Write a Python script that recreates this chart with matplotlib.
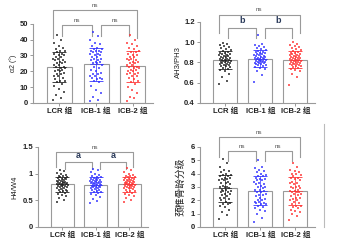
import numpy as np
import matplotlib
matplotlib.use("Agg")
import matplotlib.pyplot as plt
from matplotlib.lines import Line2D

plt.rcParams['font.family'] = ['Liberation Sans', 'Noto Sans CJK SC', 'DejaVu Sans']

groups = ["LCR 组", "ICB-1 组", "ICB-2 组"]
colors = ["#222222", "#3434ff", "#ff3434"]

# α2 (°)
lcr1 = [2, 3, 5, 7, 9, 11, 12, 13, 14, 14, 15, 16, 17, 17, 18, 18, 19, 20, 20, 21, 21, 22, 22, 23, 23,
        24, 24, 25, 25, 26, 26, 27, 27, 28, 28, 29, 29, 30, 30, 31, 31, 32, 33, 33, 34, 35, 36, 38, 40, 43]
icb1_1 = [1, 2, 4, 6, 8, 11, 13, 14, 15, 15, 16, 16, 17, 17, 18, 18, 19, 20, 21, 22, 23, 24, 25, 25, 26,
          26, 27, 27, 28, 28, 29, 29, 30, 30, 31, 31, 32, 32, 33, 33, 33, 34, 34, 35, 36, 37, 38, 40, 42, 45]
icb2_1 = [1, 3, 4, 6, 8, 10, 12, 13, 14, 15, 16, 17, 17, 18, 18, 19, 19, 20, 20, 21, 21, 22, 22, 23, 23,
          24, 24, 25, 25, 26, 26, 27, 27, 28, 28, 29, 29, 30, 30, 31, 32, 32, 33, 34, 35, 36, 37, 38, 40, 43]

# AH3/PH3
lcr2 = [0.59, 0.62, 0.66, 0.69, 0.71, 0.72, 0.73, 0.74, 0.75, 0.76, 0.76, 0.77, 0.77, 0.78, 0.78, 0.79,
        0.79, 0.80, 0.80, 0.81, 0.81, 0.82, 0.82, 0.82, 0.83, 0.83, 0.84, 0.84, 0.85, 0.85, 0.86, 0.86,
        0.87, 0.87, 0.88, 0.88, 0.89, 0.89, 0.90, 0.91, 0.92, 0.93, 0.94, 0.95, 0.96, 0.97, 0.98, 0.99, 0.80, 0.81]
icb1_2 = [0.61, 0.68, 0.71, 0.73, 0.74, 0.75, 0.76, 0.77, 0.77, 0.78, 0.78, 0.79, 0.79, 0.80, 0.80, 0.81,
          0.81, 0.82, 0.82, 0.83, 0.83, 0.84, 0.84, 0.85, 0.85, 0.86, 0.86, 0.87, 0.87, 0.88, 0.88, 0.89,
          0.89, 0.90, 0.90, 0.91, 0.92, 0.93, 0.94, 0.95, 0.96, 0.97, 0.98, 1.07, 0.79, 0.80, 0.81, 0.82, 0.83, 0.84]
icb2_2 = [0.58, 0.66, 0.69, 0.71, 0.72, 0.73, 0.74, 0.75, 0.76, 0.76, 0.77, 0.77, 0.78, 0.78, 0.79, 0.79,
          0.80, 0.80, 0.81, 0.81, 0.82, 0.82, 0.83, 0.83, 0.84, 0.84, 0.85, 0.85, 0.86, 0.86, 0.87, 0.87,
          0.88, 0.88, 0.89, 0.89, 0.90, 0.91, 0.92, 0.93, 0.94, 0.95, 0.96, 0.97, 0.98, 1.00, 0.78, 0.80, 0.82, 0.84]

# H4/W4
lcr3 = [0.46, 0.50, 0.54, 0.57, 0.60, 0.62, 0.64, 0.65, 0.67, 0.68, 0.69, 0.70, 0.71, 0.72, 0.73, 0.74,
        0.75, 0.76, 0.77, 0.78, 0.79, 0.80, 0.80, 0.81, 0.82, 0.83, 0.84, 0.85, 0.86, 0.87, 0.88, 0.89,
        0.90, 0.91, 0.92, 0.93, 0.94, 0.95, 0.96, 0.97, 0.99, 1.01, 1.04, 1.07, 0.78, 0.80, 0.82, 0.84, 0.86, 0.76]
icb1_3 = [0.45, 0.49, 0.53, 0.56, 0.59, 0.61, 0.63, 0.65, 0.66, 0.68, 0.69, 0.70, 0.71, 0.72, 0.73, 0.74,
          0.75, 0.76, 0.77, 0.78, 0.79, 0.80, 0.81, 0.82, 0.83, 0.84, 0.85, 0.85, 0.86, 0.87, 0.88, 0.89,
          0.90, 0.91, 0.92, 0.93, 0.94, 0.95, 0.97, 0.99, 1.02, 1.06, 1.09, 0.74, 0.76, 0.80, 0.82, 0.84, 0.86, 0.88]
icb2_3 = [0.47, 0.51, 0.55, 0.58, 0.60, 0.62, 0.64, 0.66, 0.67, 0.68, 0.70, 0.71, 0.72, 0.73, 0.74, 0.75,
          0.76, 0.77, 0.78, 0.79, 0.80, 0.81, 0.82, 0.83, 0.84, 0.85, 0.86, 0.87, 0.88, 0.89, 0.90, 0.91,
          0.92, 0.93, 0.94, 0.95, 0.96, 0.98, 1.00, 1.03, 1.06, 1.11, 0.72, 0.76, 0.78, 0.80, 0.82, 0.84, 0.86, 0.88]

# 颈椎骨龄分级
lcr4 = [0.6, 0.9, 1.1, 1.3, 1.5, 1.6, 1.7, 1.8, 1.9, 2.0, 2.1, 2.2, 2.3, 2.4, 2.5, 2.5, 2.6, 2.6, 2.7, 2.7,
        2.8, 2.8, 2.9, 3.0, 3.0, 3.1, 3.2, 3.3, 3.3, 3.4, 3.5, 3.5, 3.6, 3.6, 3.7, 3.7, 3.8, 3.8, 3.9, 3.9,
        4.0, 4.1, 4.2, 4.3, 4.5, 4.8, 5.1, 1.7, 2.2, 3.0]
icb1_4 = [0.4, 0.7, 1.0, 1.2, 1.4, 1.5, 1.6, 1.7, 1.7, 1.8, 1.9, 2.0, 2.1, 2.2, 2.3, 2.4, 2.5, 2.6, 2.7, 2.8,
          2.9, 3.0, 3.0, 3.1, 3.2, 3.3, 3.4, 3.5, 3.5, 3.6, 3.7, 3.8, 3.8, 3.9, 4.0, 4.1, 4.2, 4.3, 4.4, 4.5,
          5.0, 1.8, 2.0, 2.4, 2.8, 3.2, 1.3, 1.9, 2.6, 3.6]
icb2_4 = [0.5, 0.8, 1.0, 1.1, 1.3, 1.4, 1.5, 1.6, 1.7, 1.8, 1.9, 2.0, 2.1, 2.2, 2.3, 2.4, 2.5, 2.6, 2.6, 2.7,
          2.7, 2.8, 2.9, 3.0, 3.1, 3.2, 3.3, 3.4, 3.5, 3.6, 3.7, 3.8, 3.9, 4.0, 4.1, 4.2, 4.3, 4.5, 4.8, 1.2,
          1.6, 2.0, 2.5, 2.9, 3.3, 3.7, 2.2, 2.6, 3.0, 4.0]

panels = [
    dict(data=[lcr1, icb1_1, icb2_1], ylabel="α2 (°)", ylim=(0, 50), yticks=[0, 10, 20, 30, 40, 50],
         fmt="{:.0f}", marks=("ns", "ns", "ns"), inner=(0.99, 0.85), outer=(1.18, 0.82),
         pos=[0.098, 0.585, 0.356, 0.319], ylfs=5, ylx=-0.165),
    dict(data=[lcr2, icb1_2, icb2_2], ylabel="AH3/PH3", ylim=(0.4, 1.2), yticks=[0.4, 0.6, 0.8, 1.0, 1.2],
         fmt="{:.1f}", marks=("b", "b", "ns"), inner=(0.93, 0.80), outer=(1.09, 0.86),
         pos=[0.593, 0.585, 0.341, 0.327], ylfs=5.5, ylx=-0.19),
    dict(data=[lcr3, icb1_3, icb2_3], ylabel="H4/W4", ylim=(0, 1.5), yticks=[0, 0.5, 1.0, 1.5],
         fmt="{:g}", marks=("a", "a", "ns"), inner=(0.81, 0.72), outer=(0.94, 0.75),
         pos=[0.113, 0.085, 0.326, 0.323], ylfs=5.5, ylx=-0.21),
    dict(data=[lcr4, icb1_4, icb2_4], ylabel="颈椎骨龄分级", ylim=(0, 6), yticks=[0, 1, 2, 3, 4, 5, 6],
         fmt="{:.0f}", marks=("ns", "ns", "ns"), inner=(0.95, 0.82), outer=(1.12, 0.87),
         pos=[0.593, 0.085, 0.341, 0.323], ylfs=7, ylx=-0.17),
]

fig = plt.figure(figsize=(3.37, 2.48), dpi=100)
gray = "#9a9a9a"

for p in panels:
    ax = fig.add_axes(p["pos"])
    x = np.arange(3)
    means = [np.mean(d) for d in p["data"]]
    sds = [np.std(d) for d in p["data"]]
    ax.bar(x, means, width=0.68, color="white", edgecolor=gray, linewidth=0.8, zorder=1)
    for i, d in enumerate(p["data"]):
        vals = np.sort(np.array(d, dtype=float))
        offs = ((np.arange(len(vals)) * 0.618) % 1 - 0.5) * 0.34
        ax.scatter(i + offs, vals, s=1.6, marker="s", color=colors[i], alpha=0.75,
                   linewidths=0, zorder=3)
        ax.errorbar(i, means[i], yerr=sds[i], color=colors[i], lw=0.5, capsize=5,
                    capthick=0.6, zorder=4)
        ax.plot([i - 0.18, i + 0.18], [means[i]] * 2, color=colors[i], lw=0.5, zorder=4)

    ax.set_xlim(-0.72, 2.55)
    ax.set_ylim(*p["ylim"])
    ax.set_yticks(p["yticks"])
    ax.set_yticklabels([p["fmt"].format(v) for v in p["yticks"]], fontsize=5.5,
                       fontweight="bold", color="#333333")
    ax.set_xticks(x)
    ax.set_xticklabels(groups, fontsize=5.5, fontweight="bold", color="#222222")
    ax.text(p["ylx"], 0.5, p["ylabel"], transform=ax.transAxes, rotation=90,
            ha="center", va="center", fontsize=p["ylfs"], color="#222222",
            family=['Noto Sans CJK SC'] if p["ylfs"] > 6 else ['Liberation Sans', 'DejaVu Sans'])
    for s in ["top", "right"]:
        ax.spines[s].set_visible(False)
    for s in ["left", "bottom"]:
        ax.spines[s].set_color(gray)
        ax.spines[s].set_linewidth(0.8)
    ax.tick_params(axis="both", colors=gray, length=2.5, width=0.7, pad=1.2)
    for lab in ax.get_xticklabels() + ax.get_yticklabels():
        lab.set_color("#222222")

    tr = ax.get_xaxis_transform()
    ytop, yleg = p["inner"]
    m01, m12, mout = p["marks"]
    for (x0, x1), m in [((0.08, 0.88), m01), ((1.12, 1.9), m12)]:
        ax.plot([x0, x0, x1, x1], [yleg, ytop, ytop, yleg], color=gray, lw=0.8,
                transform=tr, clip_on=False)
        bold = m != "ns"
        ax.text((x0 + x1) / 2, ytop + 0.025, m, transform=tr, ha="center", va="bottom",
                fontsize=6.5 if bold else 4.5, fontweight="bold" if bold else "normal",
                color="#2a3a5a" if bold else "#555555")
    otop, oleg = p["outer"]
    ax.plot([-0.18, -0.18, 2.12, 2.12], [oleg, otop, otop, oleg], color=gray, lw=0.8,
            transform=tr, clip_on=False)
    ax.text(0.97, otop + 0.025, mout, transform=tr, ha="center", va="bottom",
            fontsize=4.5, color="#555555")

fig.add_artist(Line2D([324 / 337, 324 / 337], [0.085, 0.5], color="#bbbbbb", lw=0.8))

fig.savefig("out.png", dpi=100)
